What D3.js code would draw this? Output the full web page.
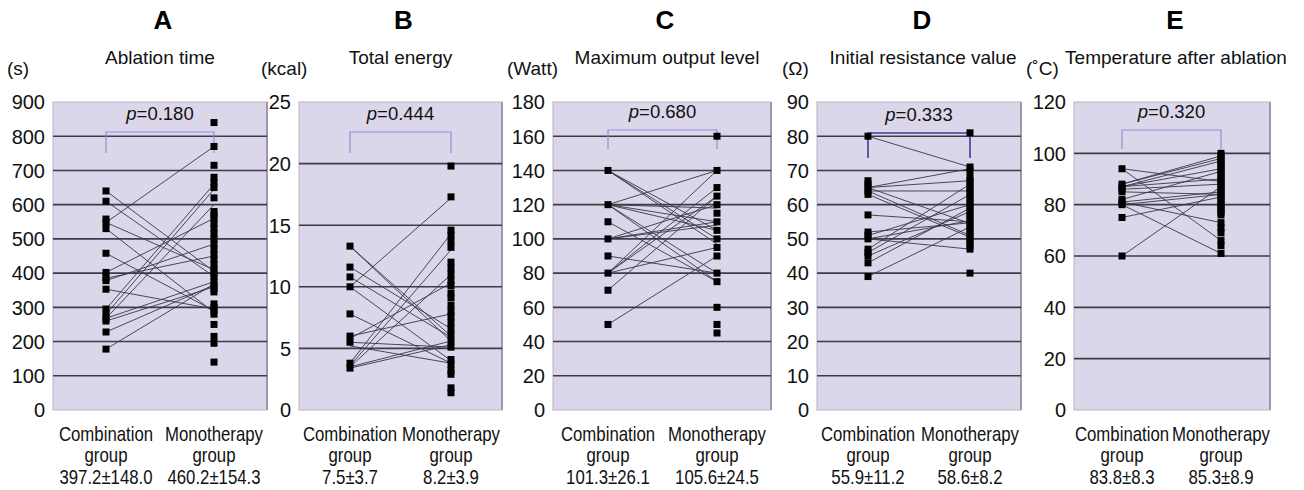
<!DOCTYPE html>
<html>
<head>
<meta charset="utf-8">
<script src="https://cdn.jsdelivr.net/npm/d3@7"></script>
<style>
  html, body { margin: 0; padding: 0; background: #fff; }
  svg { display: block; font-family: "Liberation Sans", Arial, sans-serif; }
</style>
</head>
<body>
<svg id="chart" width="1304" height="490"></svg>
<script>
// ---------- data ----------
const letters = ["A", "B", "C", "D", "E"];
const titles = ["Ablation time", "Total energy", "Maximum output level", "Initial resistance value", "Temperature after ablation"];
const units = ["(s)", "(kcal)", "(Watt)", "(\u03A9)", "(\u02DAC)"];
const groups = ["Combination", "Monotherapy"];
const yMaxes = [900, 25, 180, 90, 120];
const yTickSteps = [100, 5, 20, 10, 20];
const pValues = ["0.180", "0.444", "0.680", "0.333", "0.320"];
const combStats = ["397.2\u00B1148.0", "7.5\u00B13.7", "101.3\u00B126.1", "55.9\u00B111.2", "83.8\u00B18.3"];
const monoStats = ["460.2\u00B1154.3", "8.2\u00B13.9", "105.6\u00B124.5", "58.6\u00B18.2", "85.3\u00B18.9"];

// Panel A: ablation time (s)
const aComb = [640, 610, 558, 548, 530, 458, 402, 385, 378, 353, 295, 280, 268, 260, 228, 178];
const aMono = [840, 770, 715, 680, 665, 650, 620, 580, 570, 560, 545, 530, 515, 500, 485, 470, 455, 440, 425, 410, 400, 390, 375, 365, 355, 345, 310, 300, 290, 280, 250, 215, 195, 140];
const aLinks = [[640, 405], [610, 390], [548, 770], [548, 410], [530, 285], [458, 290], [402, 560], [385, 450], [378, 485], [353, 295], [295, 660], [280, 645], [268, 600], [268, 375], [260, 360], [228, 365], [178, 368]];

// Panel B: total energy (kcal)
const bComb = [13.3, 11.6, 10.8, 10.0, 7.8, 6.0, 5.5, 3.8, 3.4];
const bMono = [19.8, 17.3, 14.6, 14.2, 13.7, 13.2, 12.0, 11.5, 11.0, 10.5, 10.1, 9.5, 9.1, 8.5, 8.0, 7.6, 7.1, 6.6, 6.1, 5.6, 5.1, 4.1, 3.7, 3.2, 2.9, 1.8, 1.4];
const bLinks = [[13.3, 6.0], [13.3, 5.6], [11.6, 6.6], [10.8, 5.9], [10.0, 17.2], [10.0, 4.0], [7.8, 3.8], [6.0, 7.8], [5.8, 10.3], [5.5, 5.1], [5.2, 3.8], [3.8, 14.3], [3.6, 13.0], [3.5, 11.0], [3.5, 5.6], [3.4, 5.3]];

// Panel C: maximum output level (Watt)
const cComb = [140, 120, 110, 100, 90, 80, 70, 50];
const cMono = [160, 140, 130, 125, 120, 115, 110, 105, 100, 95, 90, 80, 75, 60, 50, 45];
const cLinks = [[140, 100], [140, 97], [140, 105], [120, 140], [120, 118], [120, 110], [120, 105], [120, 80], [120, 75], [110, 75], [100, 120], [100, 110], [100, 108], [90, 80], [80, 140], [80, 130], [80, 125], [80, 95], [70, 125], [50, 90]];

// Panel D: initial resistance value (Ohm)
const dComb = [80, 67, 66, 65, 64, 63, 57, 52, 51, 50, 47, 46, 45, 43, 39];
const dMono = [81, 71, 70, 68, 67, 66, 65, 64, 63, 62, 61, 60, 59, 58, 57, 56, 55, 54, 53, 52, 51, 50, 49, 48, 47, 40];
const dLinks = [[80, 71], [65, 70.5], [65, 67], [64, 64], [65, 54.5], [64, 51], [63, 50.5], [57, 55], [52, 54.7], [51, 60], [50, 55.3], [50, 47], [47, 66], [46, 63], [45, 58], [43, 59], [39, 53.5]];

// Panel E: temperature after ablation (C)
const eComb = [94, 88, 87, 86, 85, 82, 81, 80, 75, 60];
const eMono = [100, 99, 98, 97, 96, 95, 94, 93, 92, 91, 90, 89, 88, 87, 86, 85, 84, 83, 82, 81, 80, 79, 78, 77, 76, 73, 71, 69, 66, 64, 61];
const eLinks = [[94, 89], [94, 66], [88, 99], [88, 98], [87, 97], [87, 94], [87, 90], [86, 88], [85, 84], [82, 93], [81, 85], [81, 73], [80, 61], [80, 84], [75, 83], [60, 87]];

// ---------- layout ----------
const combs = [aComb, bComb, cComb, dComb, eComb];
const monos = [aMono, bMono, cMono, dMono, eMono];
const links = [aLinks, bLinks, cLinks, dLinks, eLinks];
const plotLeft = [53, 299, 553, 817, 1074];
const plotRight = [267, 502, 771, 1021, 1270];
const combX = [106, 350, 608, 868, 1122];
const monoX = [214, 451, 717, 970, 1221];
const bracketY = [132, 132, 130, 133, 130];
const bracketLeg = [153, 153, 149, 158, 149];
const unitX = [7, 261, 507, 782, 1026];
const titleDx = [0, 0, 5, 4, 4];
const plotTop = 102, plotBottom = 410;

const svg = d3.select("#chart");
const bg = "#dcd6ea";

letters.forEach((letter, i) => {
  const g = svg.append("g");
  const L = plotLeft[i], R = plotRight[i];
  const cx = (L + R) / 2;
  const y = d3.scaleLinear().domain([0, yMaxes[i]]).range([plotBottom, plotTop]);
  const x = d3.scalePoint().domain(groups).range([combX[i], monoX[i]]);

  // plot background
  g.append("rect").attr("x", L).attr("y", plotTop).attr("width", R - L).attr("height", plotBottom - plotTop)
    .attr("fill", bg).attr("stroke", "#b9b4c6").attr("stroke-width", 1);
  g.append("line").attr("x1", R).attr("x2", R).attr("y1", plotTop).attr("y2", plotBottom)
    .attr("stroke", "#9d98ab").attr("stroke-width", 2);

  const ticks = d3.range(0, yMaxes[i] + yTickSteps[i] / 2, yTickSteps[i]);
  // gridlines
  g.selectAll(".grid").data(ticks.filter(t => t > 0 && t < yMaxes[i])).join("line")
    .attr("x1", L).attr("x2", R).attr("y1", d => y(d)).attr("y2", d => y(d))
    .attr("stroke", "#3d3b45").attr("stroke-width", 1.6);

  // y axis labels
  const axis = d3.axisLeft(y).tickValues(ticks).tickSize(0).tickPadding(0);
  const ax = g.append("g").attr("transform", `translate(${L - 8},0)`).call(axis);
  ax.select(".domain").remove();
  ax.selectAll("text").attr("font-size", 20).attr("fill", "#111").attr("font-family", "Liberation Sans, Arial, sans-serif").attr("dy", "0.34em");

  // connecting lines
  g.selectAll(".link").data(links[i]).join("line")
    .attr("x1", x(groups[0])).attr("x2", x(groups[1]))
    .attr("y1", d => y(d[0])).attr("y2", d => y(d[1]))
    .attr("stroke", "#3a3646").attr("stroke-width", 1).attr("stroke-opacity", 0.9);

  // bracket
  g.append("path")
    .attr("d", `M${x(groups[0])},${bracketLeg[i]}V${bracketY[i]}H${x(groups[1])}V${bracketLeg[i]}`)
    .attr("fill", "none").attr("stroke", i === 3 ? "#3b3f9a" : "#8e90d4").attr("stroke-width", i === 3 ? 1.6 : 1.2);
  const pt = g.append("text").attr("x", (x(groups[0]) + x(groups[1])) / 2).attr("y", bracketY[i] - 12)
    .attr("text-anchor", "middle").attr("font-size", 18.5).attr("fill", "#111");
  pt.append("tspan").attr("font-style", "italic").text("p");
  pt.append("tspan").text("=" + pValues[i]);

  // markers
  const sz = 7;
  g.selectAll(".cm").data(combs[i]).join("rect")
    .attr("x", x(groups[0]) - sz / 2).attr("y", d => y(d) - sz / 2).attr("width", sz).attr("height", sz).attr("fill", "#000");
  g.selectAll(".mm").data(monos[i]).join("rect")
    .attr("x", x(groups[1]) - sz / 2).attr("y", d => y(d) - sz / 2).attr("width", sz).attr("height", sz).attr("fill", "#000");

  // titles
  g.append("text").attr("x", cx + 3).attr("y", 29).attr("text-anchor", "middle")
    .attr("font-size", 26).attr("font-weight", "bold").attr("fill", "#000").text(letter);
  g.append("text").attr("x", cx + titleDx[i]).attr("y", 64).attr("text-anchor", "middle")
    .attr("font-size", 19).attr("fill", "#111").text(titles[i]);
  g.append("text").attr("x", unitX[i]).attr("y", 75).attr("text-anchor", "start")
    .attr("font-size", 19).attr("fill", "#111").text(units[i]);

  // group labels and stats (slightly condensed like the reference)
  [[groups[0], combStats[i]], [groups[1], monoStats[i]]].forEach(([gname, stat]) => {
    const gx = x(gname);
    [[gname, 441], ["group", 462], [stat, 484]].forEach(([txt, ty]) => {
      g.append("text").attr("transform", `translate(${gx},${ty}) scale(0.84,1)`)
        .attr("text-anchor", "middle").attr("font-size", 20).attr("fill", "#111").text(txt);
    });
  });
});
</script>
</body>
</html>
